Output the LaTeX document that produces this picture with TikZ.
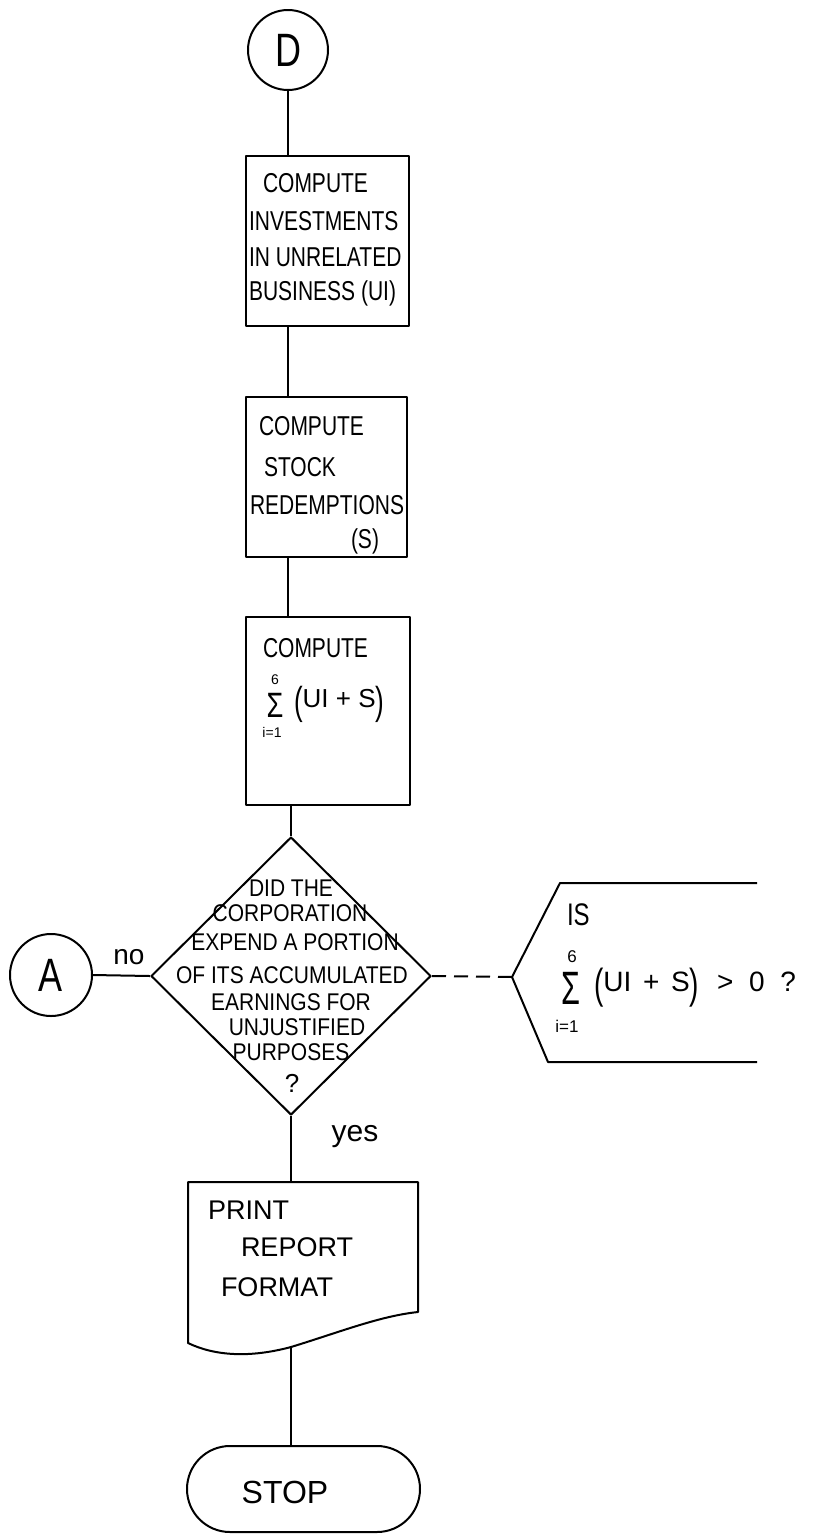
\documentclass[tikz,border=0pt]{standalone}
\usepackage{fontspec}
\setmainfont{Liberation Sans}
\usepackage{graphicx}
\usetikzlibrary{shapes.geometric,shapes.misc}
\newcommand{\bigp}[1]{\raisebox{-0.25em}{\scalebox{1}[1.5]{#1}}}
\newcommand{\T}[1]{\scalebox{1}[1.3]{#1}}
\newcommand{\Tt}[1]{\scalebox{1}[1.15]{#1}}
\begin{document}
\begin{tikzpicture}[x=1pt,y=-1pt, line width=2pt, line join=round,
  conn/.style={draw, circle, inner sep=0, font=\fontsize{36}{36}\selectfont},
  procbox/.style={draw, rectangle, inner sep=0},
  txt/.style={inner sep=0, anchor=west, font=\fontsize{21}{21}\selectfont},
  dtxt/.style={inner sep=0, font=\fontsize{21}{21}\selectfont},
  sm/.style={inner sep=0, font=\fontsize{14}{14}\selectfont},
  sig/.style={inner sep=0, font=\fontsize{32}{32}\selectfont},
  lab/.style={inner sep=0, font=\fontsize{28}{28}\selectfont}]
\useasboundingbox (0,0) rectangle (816,1535);

% connector D
\node[conn, minimum size=80pt] (D) at (288,50) {\T{D}};

% box 1
\node[procbox, minimum width=163pt, minimum height=170pt] (b1) at (327.5,241) {};
\node[txt] (t11) at (262,183) {\T{COMPUTE}};
\node[txt] (t12) at (248,221) {\T{INVESTMENTS}};
\node[txt] (t13) at (248,257) {\T{IN UNRELATED}};
\node[txt] (t14) at (248,293) {\T{BUSINESS (UI)}};

% box 2
\node[procbox, minimum width=161pt, minimum height=160pt] (b2) at (326.5,477) {};
\node[txt] (t21) at (258,426) {\T{COMPUTE}};
\node[txt] (t22) at (263,467) {\T{STOCK}};
\node[txt] (t23) at (249,505) {\T{REDEMPTIONS}};
\node[txt] (t24) at (350,541) {\T{(S)}};

% box 3
\node[procbox, minimum width=164pt, minimum height=188pt] (b3) at (328,711) {};
\node[txt] (t31) at (262,648) {\T{COMPUTE}};
\node[sig] (s3) at (275,705) {\scalebox{0.85}[1.1]{Σ}};
\node[sm] (s3u) at (275,680) {6};
\node[sm] (s3l) at (272,732) {i=1};
\node[txt, font=\fontsize{26}{26}\selectfont] (s3t) at (293,704) {\bigp{(}UI + S\bigp{)}};

% decision
\node[draw, diamond, inner sep=0, minimum width=280pt, minimum height=278pt] (dia) at (291,976) {};
\node[dtxt] (d1) at (291,888) {\Tt{DID THE}};
\node[dtxt] (d2) at (290,913) {\Tt{CORPORATION}};
\node[dtxt] (d3) at (295,942) {\Tt{EXPEND A PORTION}};
\node[dtxt] (d4) at (292,975) {\Tt{OF ITS ACCUMULATED}};
\node[dtxt] (d5) at (291,1002) {\Tt{EARNINGS FOR}};
\node[dtxt] (d6) at (297,1027) {\Tt{UNJUSTIFIED}};
\node[dtxt] (d7) at (291,1052) {\Tt{PURPOSES}};
\node[dtxt, font=\fontsize{26}{26}\selectfont] (d8) at (292,1083) {?};

% connector A
\node[conn, minimum size=82pt] (A) at (51,975) {\T{A}};
\node[lab] (no) at (129,957) {no};

% annotation
\coordinate (ann) at (512,977);
\draw (757,883) -- (560,883) -- (ann) -- (548,1062) -- (757,1062);
\node[txt, font=\fontsize{24}{24}\selectfont] (is) at (566,915) {\T{IS}};
\node[sig, font=\fontsize{36}{36}\selectfont] (s4) at (571,988) {\scalebox{0.85}[1.3]{Σ}};
\node[sm, font=\fontsize{17}{17}\selectfont] (s4u) at (572,957) {6};
\node[sm, font=\fontsize{17}{17}\selectfont] (s4l) at (567,1026) {i=1};
\node[txt, font=\fontsize{28}{28}\selectfont] (s4t) at (593,988) {\bigp{(}UI\hspace{4pt} + \hspace{4pt}S\bigp{)}\hspace{10pt} > \hspace{8pt}0\hspace{8pt} ?};

% document
\coordinate (doctop) at (291,1182);
\coordinate (docbot) at (291,1347);
\draw (188,1343) -- (188,1182) -- (418,1182) -- (418,1312)
  .. controls (380,1316) and (340,1332) .. (docbot)
  .. controls (250,1358) and (215,1356) .. cycle;
\node[txt, font=\fontsize{27}{27}\selectfont] (p1) at (207,1210) {PRINT};
\node[txt, font=\fontsize{27}{27}\selectfont] (p2) at (240,1247) {REPORT};
\node[txt, font=\fontsize{27}{27}\selectfont] (p3) at (220,1287) {FORMAT};
\node[lab, font=\fontsize{30}{30}\selectfont] (yes) at (355,1137) {yes};

% terminal
\node[draw, rounded rectangle, inner sep=0, minimum width=233pt, minimum height=86pt] (stop) at (303.5,1489) {};
\node[lab, font=\fontsize{32}{32}\selectfont] (st) at (285,1492) {STOP};

% connectors
\draw (D.south) -- (D.south |- b1.north);
\draw (b1.south -| D.south) -- (b2.north -| D.south);
\draw (b2.south -| D.south) -- (b3.north -| D.south);
\draw (b3.south -| dia.north) -- (dia.north);
\draw (dia.south) -- (doctop);
\draw (A.east) -- (dia.west);
\draw[dashed, dash pattern=on 14pt off 8pt] (dia.east) -- (ann);
\draw (docbot) -- (docbot |- stop.north);
\end{tikzpicture}
\end{document}
